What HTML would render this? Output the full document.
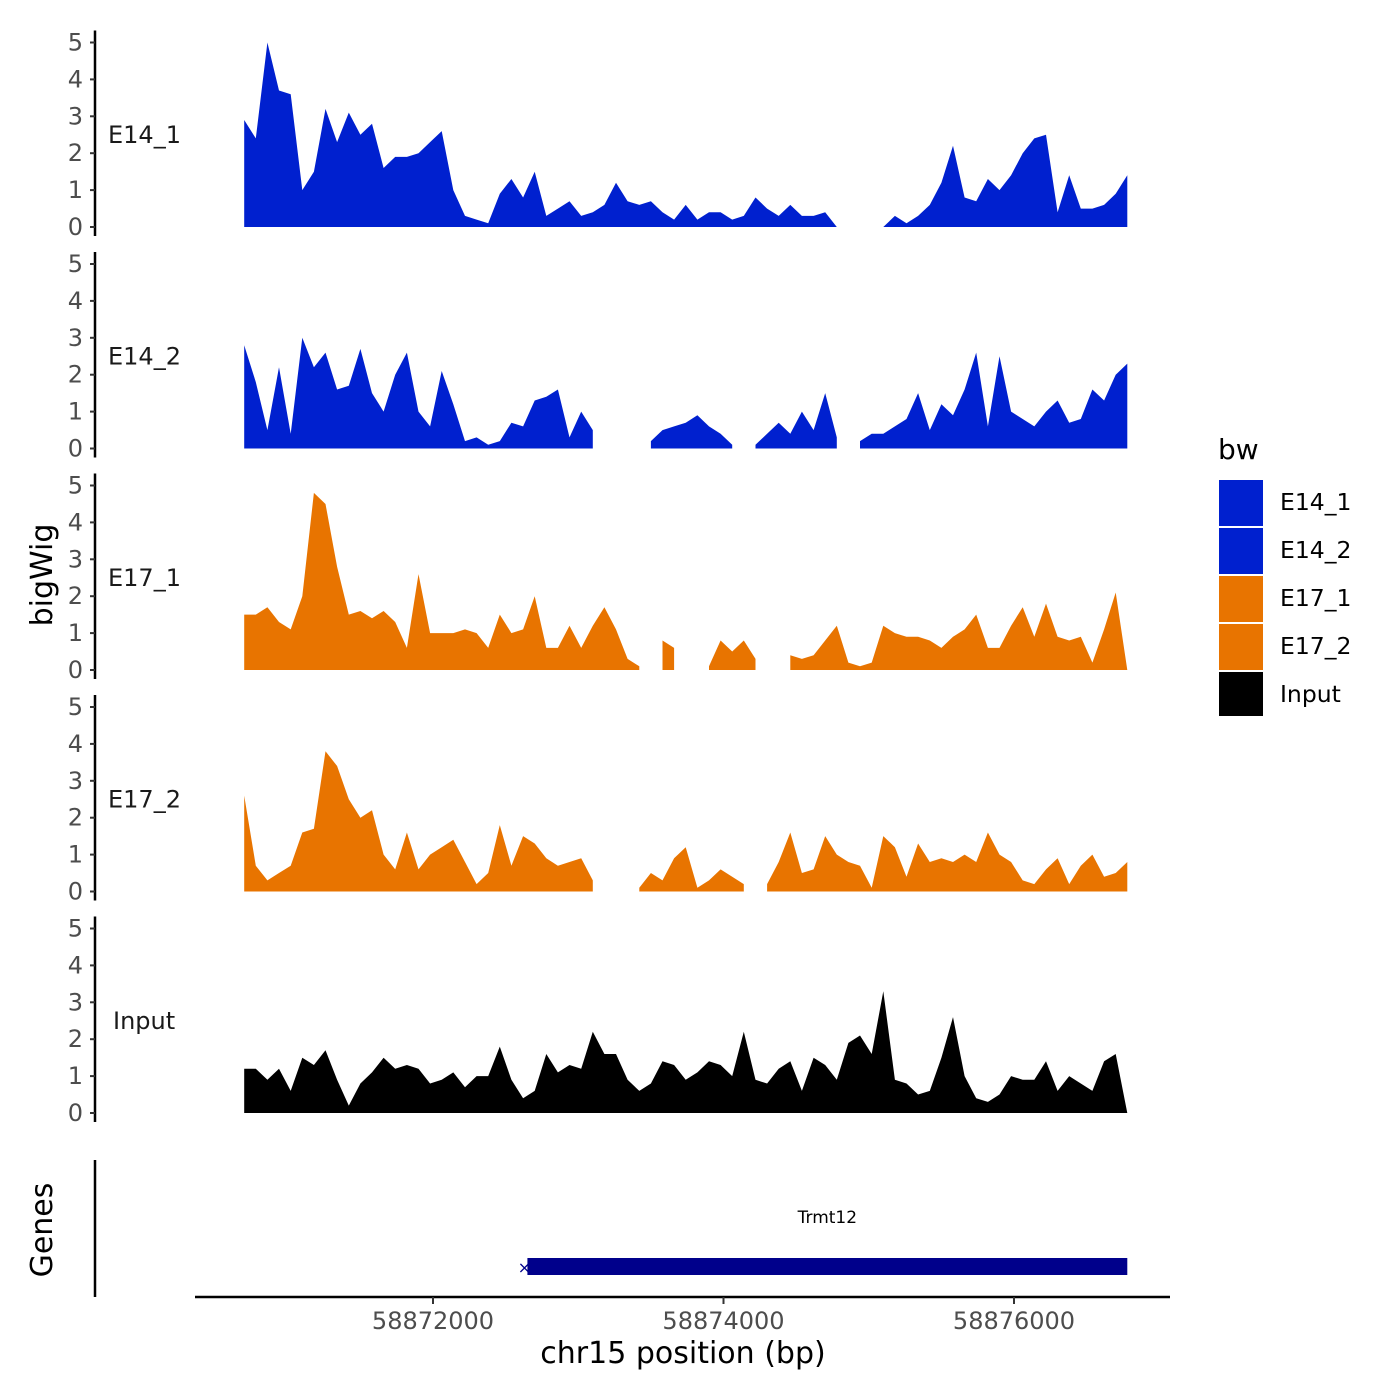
<!DOCTYPE html>
<html><head><meta charset="utf-8"><style>
html,body{margin:0;padding:0;background:#fff;}
svg text{font-family:"DejaVu Sans","Liberation Sans",sans-serif;}
</style></head><body>
<svg id="chart" width="1400" height="1400" viewBox="0 0 1400 1400" xmlns="http://www.w3.org/2000/svg" style="position:absolute;left:0;top:0"></svg>
<script>
const startBp = 58870700;
const stepBp = 80;
const trackNames = ["E14_1","E14_2","E17_1","E17_2","Input"];
const e14_1 = [2.9,2.4,5.0,3.7,3.6,1.0,1.5,3.2,2.3,3.1,2.5,2.8,1.6,1.9,1.9,2.0,2.3,2.6,1.0,0.3,0.2,0.1,0.9,1.3,0.8,1.5,0.3,0.5,0.7,0.3,0.4,0.6,1.2,0.7,0.6,0.7,0.4,0.2,0.6,0.2,0.4,0.4,0.2,0.3,0.8,0.5,0.3,0.6,0.3,0.3,0.4,0.0,null,null,null,0.0,0.3,0.1,0.3,0.6,1.2,2.2,0.8,0.7,1.3,1.0,1.4,2.0,2.4,2.5,0.4,1.4,0.5,0.5,0.6,0.9,1.4];
const e14_2 = [2.8,1.8,0.5,2.2,0.4,3.0,2.2,2.6,1.6,1.7,2.7,1.5,1.0,2.0,2.6,1.0,0.6,2.1,1.2,0.2,0.3,0.1,0.2,0.7,0.6,1.3,1.4,1.6,0.3,1.0,0.5,null,null,null,null,0.2,0.5,0.6,0.7,0.9,0.6,0.4,0.1,null,0.1,0.4,0.7,0.4,1.0,0.5,1.5,0.3,null,0.2,0.4,0.4,0.6,0.8,1.5,0.5,1.2,0.9,1.6,2.6,0.6,2.5,1.0,0.8,0.6,1.0,1.3,0.7,0.8,1.6,1.3,2.0,2.3];
const e17_1 = [1.5,1.5,1.7,1.3,1.1,2.0,4.8,4.5,2.8,1.5,1.6,1.4,1.6,1.3,0.6,2.6,1.0,1.0,1.0,1.1,1.0,0.6,1.5,1.0,1.1,2.0,0.6,0.6,1.2,0.6,1.2,1.7,1.1,0.3,0.1,null,0.8,0.6,null,null,0.1,0.8,0.5,0.8,0.3,null,null,0.4,0.3,0.4,0.8,1.2,0.2,0.1,0.2,1.2,1.0,0.9,0.9,0.8,0.6,0.9,1.1,1.5,0.6,0.6,1.2,1.7,0.9,1.8,0.9,0.8,0.9,0.2,1.1,2.1,0.0];
const e17_2 = [2.6,0.7,0.3,0.5,0.7,1.6,1.7,3.8,3.4,2.5,2.0,2.2,1.0,0.6,1.6,0.6,1.0,1.2,1.4,0.8,0.2,0.5,1.8,0.7,1.5,1.3,0.9,0.7,0.8,0.9,0.3,null,null,null,0.1,0.5,0.3,0.9,1.2,0.1,0.3,0.6,0.4,0.2,null,0.2,0.8,1.6,0.5,0.6,1.5,1.0,0.8,0.7,0.1,1.5,1.2,0.4,1.3,0.8,0.9,0.8,1.0,0.8,1.6,1.0,0.8,0.3,0.2,0.6,0.9,0.2,0.7,1.0,0.4,0.5,0.8];
const inputVals = [1.2,1.2,0.9,1.2,0.6,1.5,1.3,1.7,0.9,0.2,0.8,1.1,1.5,1.2,1.3,1.2,0.8,0.9,1.1,0.7,1.0,1.0,1.8,0.9,0.4,0.6,1.6,1.1,1.3,1.2,2.2,1.6,1.6,0.9,0.6,0.8,1.4,1.3,0.9,1.1,1.4,1.3,1.0,2.2,0.9,0.8,1.2,1.4,0.6,1.5,1.3,0.9,1.9,2.1,1.6,3.3,0.9,0.8,0.5,0.6,1.5,2.6,1.0,0.4,0.3,0.5,1.0,0.9,0.9,1.4,0.6,1.0,0.8,0.6,1.4,1.6,0.0];
const yTicks = [0,1,2,3,4,5];
const xTicks = [58872000,58874000,58876000];
const xTickLabels = ["58872000","58874000","58876000"];
const geneStart = 58872650;
const geneEnd = 58876780;
const geneName = "Trmt12";

const seriesList = [e14_1,e14_2,e17_1,e17_2,inputVals];
const colors = ["#0020CF","#0020CF","#E87400","#E87400","#000000"];
const NS="http://www.w3.org/2000/svg";
const svg=document.getElementById('chart');
function X(bp){return 433+(bp-58872000)*0.14525;}
function panelY0(i){return 227+i*221.5;}
function Y(i,v){return panelY0(i)-v*36.9;}
function el(tag,attrs,parent){const e=document.createElementNS(NS,tag);for(const k in attrs)e.setAttribute(k,attrs[k]);(parent||svg).appendChild(e);return e;}
function txt(s,attrs){const t=el('text',attrs);t.textContent=s;return t;}

seriesList.forEach((vals,i)=>{
  const g=el('g',{});
  
  
  const ax=el('line',{x1:95,x2:95,y1:Y(i,5)-12,y2:panelY0(i)+9,stroke:'#000','stroke-width':2.5},g);
  
  
  yTicks.forEach(t=>{
    el('line',{x1:90,x2:95,y1:Y(i,t),y2:Y(i,t),stroke:'#333','stroke-width':2},g);
    const l=el('text',{x:83,y:Y(i,t)+8,'text-anchor':'end','font-size':24,fill:'#4d4d4d'},g);
    l.textContent=t;
    
    
  });
  const lab=el('text',{x:i==4?113:108,y:Y(i,2.5)+8,'font-size':24,fill:'#1a1a1a'},g);
  lab.textContent=trackNames[i];
  
  
  let seg=[];
  const flush=()=>{
    if(seg.length){
      let d='M'+X(seg[0][0]).toFixed(1)+','+panelY0(i);
      seg.forEach(p=>{d+='L'+X(p[0]).toFixed(1)+','+Y(i,p[1]).toFixed(1);});
      d+='L'+X(seg[seg.length-1][0]).toFixed(1)+','+panelY0(i)+'Z';
      const a=el('path',{d:d,fill:colors[i]},g);
      
      
    }
    seg=[];
  };
  vals.forEach((v,k)=>{if(v===null)flush();else seg.push([startBp+k*stepBp,v]);});
  flush();
});

const gl=el('line',{x1:95,x2:95,y1:1160,y2:1297,stroke:'#000','stroke-width':2.5});


const xa=el('line',{x1:195,x2:1170,y1:1297,y2:1297,stroke:'#000','stroke-width':2.5});


xTicks.forEach((t,k)=>{
  el('line',{x1:X(t),x2:X(t),y1:1297,y2:1304,stroke:'#333','stroke-width':2});
  const l=txt(xTickLabels[k],{x:X(t),y:1329,'text-anchor':'middle','font-size':24,fill:'#4d4d4d'});
  
  
});
const gb=el('rect',{x:X(geneStart),y:1258,width:X(geneEnd)-X(geneStart),height:17,fill:'#00008B'});


txt('×',{x:X(geneStart)-3,y:1273,'text-anchor':'middle','font-size':16,fill:'#00008B'});
const gn=txt(geneName,{x:(X(geneStart)+X(geneEnd))/2,y:1223,'text-anchor':'middle','font-size':17,fill:'#000'});


</script>
<svg width="1400" height="1400" style="position:absolute;left:0;top:0;pointer-events:none" font-family="DejaVu Sans, Liberation Sans, sans-serif">
<text x="683" y="1363" text-anchor="middle" font-size="30" fill="#000">chr15 position (bp)</text>
<text transform="translate(52,575) rotate(-90)" text-anchor="middle" font-size="30" fill="#000">bigWig</text>
<text transform="translate(52,1230) rotate(-90)" text-anchor="middle" font-size="30" fill="#000">Genes</text>
<g>
<text x="1218" y="459" font-size="28" fill="#000">bw</text>
<rect x="1219" y="480" width="44" height="46" fill="#0020CF"/>
<rect x="1219" y="528" width="44" height="46" fill="#0020CF"/>
<rect x="1219" y="576" width="44" height="46" fill="#E87400"/>
<rect x="1219" y="624" width="44" height="46" fill="#E87400"/>
<rect x="1219" y="672" width="44" height="44" fill="#000"/>
<text x="1280" y="510" font-size="23.5">E14_1</text>
<text x="1280" y="558" font-size="23.5">E14_2</text>
<text x="1280" y="606" font-size="23.5">E17_1</text>
<text x="1280" y="654" font-size="23.5">E17_2</text>
<text x="1280" y="702" font-size="23.5">Input</text>
</g>
</svg>
</body></html>
